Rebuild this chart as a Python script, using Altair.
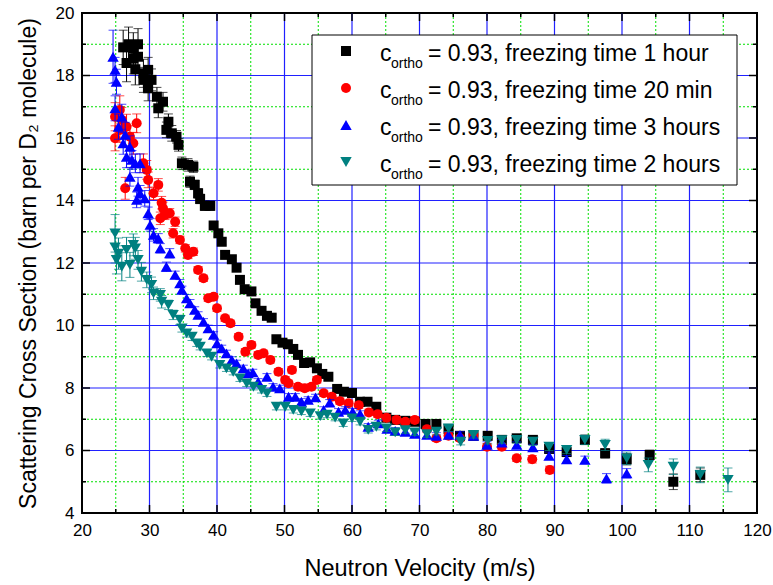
import altair as alt
import pandas as pd

# ---- data: (velocity m/s, cross section barn, error) ----
BLACK_1H = [(26.1,18.9,0.55),(26.6,18.4,0.6),(26.9,19.0,0.55),(27.6,18.87,0.5),(27.6,18.55,0.5),(27.9,18.2,0.5),(28.3,19.0,0.5),(28.3,18.6,0.45),(29.1,18.07,0.45),(29.1,17.86,0.4),(29.8,18.18,0.4),(29.8,17.59,0.4),(30.3,17.86,0.35),(31.1,17.32,0.3),(31.3,16.95,0.3),(32.0,17.16,0.3),(32.5,16.26,0.25),(32.8,16.52,0.25),(33.3,16.15,0.25),(34.0,16.04,0.2),(34.3,15.78,0.2),(34.8,15.19,0.2),(35.7,15.14,0.2),(36.0,14.6,0.18),(36.5,15.08,0.18),(36.7,14.5,0.15),(37.2,14.23,0.15),(37.5,14.05,0.15),(38.2,13.83,0.15),(39.0,13.83,0.15),(39.5,13.2,0.12),(40.2,12.95,0.1),(40.7,12.68,0.1),(41.2,12.26,0.1),(42.2,12.12,0.1),(42.9,11.85,0.1),(43.4,11.46,0.1),(44.1,11.16,0.1),(45.1,11.09,0.1),(45.7,10.71,0.1),(46.6,10.47,0.1),(47.4,10.31,0.1),(48.1,10.25,0.1),(48.8,9.56,0.1),(49.7,9.45,0.1),(50.5,9.4,0.1),(51.3,9.25,0.1),(52.0,9.06,0.1),(52.9,8.8,0.1),(53.8,8.82,0.1),(54.8,8.63,0.1),(55.6,8.45,0.1),(56.5,8.36,0.1),(57.8,7.97,0.1),(58.8,7.88,0.1),(60.0,7.84,0.1),(61.2,7.56,0.1),(62.3,7.56,0.1),(63.6,7.4,0.1),(65.1,7.05,0.1),(66.4,6.98,0.1),(67.9,6.95,0.1),(69.3,6.92,0.1),(70.9,6.85,0.1),(72.5,6.85,0.1),(74.3,6.69,0.1),(76.0,6.47,0.1),(78.0,6.47,0.1),(80.1,6.47,0.1),(82.2,6.34,0.1),(84.4,6.39,0.1),(86.8,6.34,0.1),(89.2,6.05,0.12),(91.8,5.95,0.12),(94.5,6.34,0.15),(97.5,5.91,0.15),(100.7,5.72,0.18),(104.1,5.86,0.15),(107.6,5.0,0.25),(111.6,5.22,0.22)]

RED_20MIN = [(24.9,16.68,0.45),(24.9,15.99,0.4),(25.6,16.9,0.45),(25.6,16.26,0.4),(25.9,16.58,0.4),(26.4,14.39,0.35),(26.6,16.36,0.4),(27.1,16.04,0.35),(27.6,15.83,0.35),(28.1,16.47,0.3),(29.1,15.19,0.3),(29.6,14.98,0.3),(29.8,14.66,0.25),(30.6,14.23,0.2),(31.3,14.5,0.2),(31.6,13.43,0.2),(31.8,13.93,0.2),(32.0,13.75,0.2),(32.3,13.54,0.15),(33.0,13.59,0.15),(33.5,12.95,0.15),(33.8,13.32,0.15),(34.5,12.74,0.12),(35.3,12.47,0.12),(35.7,12.26,0.12),(36.5,12.36,0.12),(37.2,11.78,0.1),(38.0,11.51,0.1),(38.7,10.87,0.1),(39.5,10.92,0.1),(40.0,10.55,0.1),(41.2,10.23,0.1),(42.0,10.07,0.1),(43.2,9.64,0.1),(44.2,9.16,0.1),(45.1,9.38,0.1),(46.1,9.06,0.1),(46.9,9.11,0.1),(47.9,8.9,0.1),(49.1,8.52,0.1),(50.1,8.26,0.1),(50.6,8.15,0.1),(51.1,8.58,0.1),(52.0,8.04,0.1),(53.0,7.99,0.1),(54.0,8.04,0.1),(54.8,8.26,0.1),(55.8,7.83,0.1),(57.0,7.72,0.1),(58.2,7.58,0.1),(59.5,7.51,0.1),(61.0,7.45,0.1),(62.5,7.22,0.1),(63.8,7.16,0.1),(65.1,7.05,0.1),(66.6,6.98,0.1),(67.9,6.92,0.1),(69.3,6.98,0.1),(71.1,6.68,0.1),(72.5,6.39,0.1),(74.3,6.47,0.1),(76.0,6.39,0.1),(78.0,6.5,0.1),(80.0,6.12,0.1),(82.2,6.12,0.1),(84.4,5.75,0.1),(86.7,5.72,0.12),(89.3,5.38,0.12)]

BLUE_3H = [(24.6,18.6,0.85),(24.9,18.18,0.4),(25.1,17.8,0.4),(24.9,16.95,0.4),(25.9,16.68,0.4),(25.4,16.36,0.4),(26.4,16.1,0.4),(26.1,15.83,0.35),(27.1,15.72,0.35),(26.6,15.4,0.35),(27.4,15.3,0.3),(27.9,15.19,0.3),(28.6,15.19,0.3),(27.1,14.76,0.3),(28.3,14.44,0.3),(28.6,14.23,0.25),(28.1,14.02,0.25),(29.3,14.07,0.25),(29.8,13.59,0.2),(30.1,13.22,0.2),(30.6,12.9,0.2),(31.3,12.79,0.15),(31.6,12.47,0.15),(33.0,12.31,0.15),(32.5,11.88,0.15),(33.8,11.62,0.12),(34.5,11.35,0.12),(34.8,11.14,0.12),(35.5,10.87,0.12),(36.0,10.71,0.12),(36.7,10.5,0.1),(37.2,10.34,0.1),(38.0,10.12,0.1),(38.7,9.91,0.1),(39.5,9.7,0.1),(40.0,9.43,0.1),(40.7,9.27,0.1),(41.4,9.11,0.1),(42.2,8.9,0.1),(42.9,8.79,0.1),(43.9,8.63,0.1),(44.6,8.47,0.1),(45.3,8.5,0.1),(46.1,8.2,0.1),(47.4,8.36,0.1),(48.3,8.04,0.1),(49.3,7.99,0.1),(50.6,7.72,0.1),(51.6,7.72,0.1),(52.5,7.56,0.1),(53.5,7.62,0.1),(54.6,7.7,0.1),(55.8,7.3,0.1),(56.7,7.53,0.1),(58.0,7.24,0.1),(59.0,7.3,0.1),(60.1,7.24,0.1),(61.2,7.17,0.1),(62.4,6.76,0.1),(63.9,6.87,0.1),(65.2,6.69,0.1),(66.4,6.63,0.1),(67.9,6.6,0.1),(69.3,6.53,0.1),(71.1,6.5,0.1),(72.5,6.47,0.1),(74.3,6.5,0.1),(76.0,6.5,0.1),(78.0,6.47,0.1),(80.0,6.18,0.1),(82.2,6.25,0.1),(84.4,6.18,0.1),(86.8,6.1,0.1),(89.2,5.83,0.12),(91.8,5.72,0.12),(94.5,5.7,0.12),(97.7,5.11,0.15),(100.7,5.27,0.15)]

TEAL_2H = [(24.9,12.95,0.6),(24.9,12.5,0.5),(25.4,12.3,0.5),(25.1,12.1,0.45),(25.9,11.88,0.45),(26.6,12.42,0.4),(27.1,11.94,0.4),(27.6,12.58,0.35),(27.9,12.47,0.35),(28.3,12.1,0.3),(28.8,11.72,0.3),(29.6,11.46,0.25),(30.3,11.3,0.25),(30.6,11.03,0.2),(31.6,10.98,0.2),(31.8,10.76,0.2),(32.8,10.66,0.15),(33.5,10.34,0.15),(34.5,10.18,0.15),(34.8,9.91,0.12),(35.5,9.75,0.12),(36.3,9.64,0.12),(37.0,9.43,0.1),(37.5,9.32,0.1),(38.5,9.11,0.1),(39.2,9.0,0.1),(40.4,8.74,0.1),(41.4,8.63,0.1),(42.4,8.52,0.1),(43.4,8.31,0.1),(44.4,8.15,0.1),(45.4,8.04,0.1),(46.6,7.94,0.1),(47.4,7.83,0.1),(48.8,7.4,0.1),(50.1,7.4,0.1),(51.3,7.3,0.1),(52.5,7.25,0.1),(53.8,7.19,0.1),(55.3,7.1,0.1),(56.3,7.15,0.1),(57.5,7.05,0.1),(58.7,6.87,0.1),(60.0,7.03,0.1),(61.2,6.92,0.1),(62.4,6.66,0.1),(63.6,6.76,0.1),(65.1,6.71,0.1),(66.4,6.58,0.1),(67.9,6.65,0.1),(69.3,6.58,0.1),(71.1,6.52,0.1),(72.5,6.6,0.1),(74.3,6.71,0.1),(76.1,6.28,0.1),(78.0,6.5,0.1),(80.1,6.31,0.1),(82.2,6.33,0.1),(84.4,6.34,0.1),(86.8,6.28,0.12),(89.2,6.12,0.12),(91.8,6.02,0.12),(94.5,6.34,0.15),(97.5,6.18,0.18),(100.7,5.75,0.2),(103.9,5.54,0.22),(107.6,5.48,0.25),(111.6,5.22,0.25),(115.7,5.06,0.38)]

X_MAJOR = [20, 30, 40, 50, 60, 70, 80, 90, 100, 110, 120]
X_MINOR = [25, 35, 45, 55, 65, 75, 85, 95, 105, 115]
Y_MAJOR = [4, 6, 8, 10, 12, 14, 16, 18, 20]
Y_MINOR = [5, 7, 9, 11, 13, 15, 17, 19]

LEGEND_TEXT = ["= 0.93, freezing time 1 hour", "= 0.93, freezing time 20 min",
               "= 0.93, freezing time 3 hours", "= 0.93, freezing time 2 hours"]

SERIES = [
    (BLACK_1H, "#000000", "square", 100),
    (RED_20MIN, "#FF0000", "circle", 100),
    (BLUE_3H, "#0000FF", "triangle-up", 130),
    (TEAL_2H, "#008080", "triangle-down", 130),
]

FONT = "Liberation Sans"
W, H = 675, 500

xs = alt.Scale(domain=[20, 120], nice=False, zero=False)
ys = alt.Scale(domain=[4, 20], nice=False, zero=False)

x_axis = alt.Axis(values=X_MAJOR, format="d", title="Neutron Velocity (m/s)", grid=False,
                  ticks=False, domain=False, labelFont=FONT, labelFontSize=17, labelColor="black",
                  labelPadding=9, labelFlush=False, titleFont=FONT, titleFontSize=23.5,
                  titleFontWeight="normal", titleColor="black", titleBaseline="alphabetic",
                  titleY=62)
y_axis = alt.Axis(values=Y_MAJOR, format="d", title="Scattering Cross Section (barn per D\u2082 molecule)",
                  grid=False, ticks=False, domain=False, labelFont=FONT, labelFontSize=17,
                  labelColor="black", labelPadding=8, labelFlush=False, titleFont=FONT,
                  titleFontSize=23, titleFontWeight="normal", titleColor="black", titlePadding=15)


def X(f):
    return alt.X(f"{f}:Q", scale=xs, axis=x_axis)


def Y(f):
    return alt.Y(f"{f}:Q", scale=ys, axis=y_axis)


layers = []
dxmin = pd.DataFrame({"g": X_MINOR})
dymin = pd.DataFrame({"g": Y_MINOR})
dxmaj = pd.DataFrame({"g": X_MAJOR[1:-1]})
dymaj = pd.DataFrame({"g": Y_MAJOR[1:-1]})

# grids
layers.append(alt.Chart(dxmin).mark_rule(color="#00E000", strokeWidth=1, strokeDash=[2, 2]).encode(x=X("g")))
layers.append(alt.Chart(dymin).mark_rule(color="#00E000", strokeWidth=1, strokeDash=[2, 2]).encode(y=Y("g")))
layers.append(alt.Chart(dxmaj).mark_rule(color="#2020FF", strokeWidth=1.2).encode(x=X("g")))
layers.append(alt.Chart(dymaj).mark_rule(color="#2020FF", strokeWidth=1.2).encode(y=Y("g")))

# inward ticks on all four sides
for d, L in ((dxmaj, 8), (dxmin, 4)):
    layers.append(alt.Chart(d).mark_rule(color="black", strokeWidth=1.5).encode(x=X("g"), y=alt.value(H), y2=alt.value(H - L)))
    layers.append(alt.Chart(d).mark_rule(color="black", strokeWidth=1.5).encode(x=X("g"), y=alt.value(0), y2=alt.value(L)))
for d, L in ((dymaj, 8), (dymin, 4)):
    layers.append(alt.Chart(d).mark_rule(color="black", strokeWidth=1.5).encode(y=Y("g"), x=alt.value(0), x2=alt.value(L)))
    layers.append(alt.Chart(d).mark_rule(color="black", strokeWidth=1.5).encode(y=Y("g"), x=alt.value(W), x2=alt.value(W - L)))

# data series
for data, color, shape, size in SERIES:
    df = pd.DataFrame(data, columns=["x", "y", "e"])
    df["lo"] = df["y"] - df["e"]
    df["hi"] = df["y"] + df["e"]
    base = alt.Chart(df)
    layers.append(base.mark_rule(color=color, strokeWidth=1).encode(x=X("x"), y=Y("lo"), y2="hi:Q"))
    layers.append(base.mark_tick(orient="horizontal", color=color, size=9, thickness=1).encode(x=X("x"), y=Y("lo")))
    layers.append(base.mark_tick(orient="horizontal", color=color, size=9, thickness=1).encode(x=X("x"), y=Y("hi")))
    layers.append(base.mark_point(shape=shape, filled=True, size=size, color=color, opacity=1,
                                  strokeWidth=0).encode(x=X("x"), y=Y("y")))

# legend box (manual, to allow the "ortho" subscript)
one = pd.DataFrame({"k": [0]})
layers.append(alt.Chart(one).mark_rect(fill="white", stroke="black", strokeWidth=1).encode(
    x=alt.value(230), x2=alt.value(655), y=alt.value(22), y2=alt.value(172)))
row_y = [38, 75, 112, 149]
for (data, color, shape, size), label, ry in zip(SERIES, LEGEND_TEXT, row_y):
    layers.append(alt.Chart(one).mark_point(shape=shape, filled=True, size=size, color=color, opacity=1,
                                            strokeWidth=0).encode(x=alt.value(264), y=alt.value(ry)))
    layers.append(alt.Chart(one).mark_text(text="c", align="left", baseline="alphabetic", font=FONT,
                                           fontSize=23, color="black").encode(x=alt.value(298), y=alt.value(ry + 10)))
    layers.append(alt.Chart(one).mark_text(text="ortho", align="left", baseline="alphabetic", font=FONT,
                                           fontSize=14, color="black").encode(x=alt.value(309), y=alt.value(ry + 17)))
    layers.append(alt.Chart(one).mark_text(text=label, align="left", baseline="alphabetic", font=FONT,
                                           fontSize=23, color="black").encode(x=alt.value(346), y=alt.value(ry + 10)))

chart = alt.layer(*layers).properties(
    width=W, height=H,
    autosize=alt.AutoSizeParams(type="none"),
    padding={"left": 82, "top": 13, "right": 16, "bottom": 72},
    background="white",
).configure_view(stroke="black", strokeWidth=2)

chart.save("out.html", embed_options={"renderer": "svg", "actions": False})
